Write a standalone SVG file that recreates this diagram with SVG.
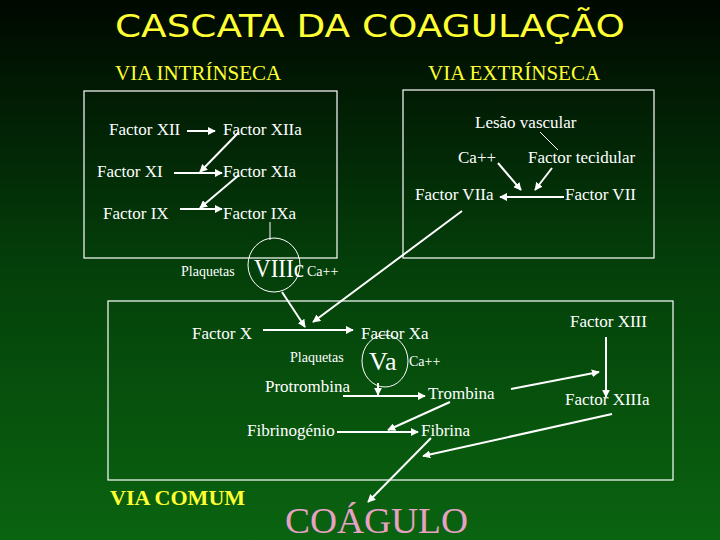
<svg xmlns="http://www.w3.org/2000/svg" width="720" height="540" viewBox="0 0 720 540">
<defs>
<linearGradient id="bg" x1="0" y1="0" x2="0" y2="1">
<stop offset="0" stop-color="#000800"/>
<stop offset="0.5" stop-color="#04400a"/>
<stop offset="1" stop-color="#0a6410"/>
</linearGradient>
<marker id="ah" viewBox="0 0 10 10" refX="9" refY="5" markerWidth="4" markerHeight="4" orient="auto"><path d="M0,0 L10,5 L0,10 z" fill="#fff"/></marker>
<style>
.t{font-family:"Liberation Serif",serif;font-size:17px;fill:#fff}
.s{font-family:"Liberation Serif",serif;font-size:14px;fill:#fff}
.g{font-family:"Liberation Serif",serif;font-size:26px;fill:#fff}
.h{font-family:"Liberation Serif",serif;font-size:21px;fill:#ffff33}
.a{stroke:#fff;stroke-width:2;fill:none;marker-end:url(#ah)}
.l{stroke:#fff;stroke-width:1;fill:none}
.b{stroke:#fff;stroke-width:1.2;fill:none}
</style>
</defs>
<rect width="720" height="540" fill="url(#bg)"/>
<text x="115" y="37" textLength="510" lengthAdjust="spacingAndGlyphs" font-family="DejaVu Sans, sans-serif" font-size="32" fill="#ffff33">CASCATA DA COAGULAÇÃO</text>
<text class="h" x="115" y="80" font-family="Liberation Serif, serif">VIA INTRÍNSECA</text>
<text class="h" x="428" y="80" font-family="Liberation Serif, serif">VIA EXTRÍNSECA</text>
<rect class="b" x="84" y="91" width="253" height="167"/>
<rect class="b" x="403" y="90" width="251" height="168"/>
<rect class="b" x="108" y="301" width="565" height="179"/>
<g id="connectors">
<line class="a" x1="187" y1="131" x2="215" y2="131"/>
<line class="a" x1="174" y1="173" x2="222" y2="173"/>
<line class="a" x1="180" y1="209" x2="222" y2="209"/>
<line class="a" x1="239" y1="132" x2="200" y2="172"/>
<line class="a" x1="239" y1="175" x2="200" y2="208"/>
<line class="l" x1="270" y1="222" x2="270" y2="240"/>
<line class="a" x1="282" y1="292" x2="305" y2="327"/>
<line class="a" x1="462" y1="211" x2="313" y2="322"/>
<line class="l" x1="540" y1="132" x2="558" y2="150"/>
<line class="a" x1="498" y1="163" x2="521" y2="190"/>
<line class="a" x1="552" y1="168" x2="535" y2="190"/>
<line class="a" x1="564" y1="197" x2="500" y2="197"/>
<line class="a" x1="263" y1="330" x2="353" y2="330"/>
<line class="a" x1="378" y1="383" x2="378" y2="395"/>
<line class="a" x1="343" y1="396" x2="425" y2="396"/>
<line class="a" x1="450" y1="402" x2="388" y2="430"/>
<line class="a" x1="337" y1="432" x2="418" y2="432"/>
<line class="a" x1="431" y1="438" x2="368" y2="502"/>
<line class="a" x1="511" y1="389" x2="599" y2="372"/>
<line class="a" x1="606" y1="337" x2="606" y2="397"/>
<line class="a" x1="612" y1="414" x2="423" y2="456"/>
</g>
<g font-family="Liberation Serif, serif">
<g id="n-xii"><text class="t" x="109" y="135">Factor XII</text></g>
<g id="n-xiia"><text class="t" x="223" y="135">Factor XIIa</text></g>
<g id="n-xi"><text class="t" x="97" y="177">Factor XI</text></g>
<g id="n-xia"><text class="t" x="223" y="177">Factor XIa</text></g>
<g id="n-ix"><text class="t" x="103" y="219">Factor IX</text></g>
<g id="n-ixa"><text class="t" x="223" y="219">Factor IXa</text></g>
<g id="n-viiic"><ellipse class="l" cx="274" cy="265" rx="26" ry="27"/><text class="g" x="254" y="277" textLength="50" lengthAdjust="spacingAndGlyphs">VIIIc</text><text class="s" x="181" y="276">Plaquetas</text><text class="s" x="307" y="276">Ca++</text></g>
<g id="n-lesao"><text class="t" x="475" y="128">Lesão vascular</text></g>
<g id="n-ca"><text class="t" x="458" y="163">Ca++</text></g>
<g id="n-tec"><text class="t" x="528" y="163">Factor tecidular</text></g>
<g id="n-viia"><text class="t" x="415" y="200">Factor VIIa</text></g>
<g id="n-vii"><text class="t" x="565" y="200">Factor VII</text></g>
<g id="n-x"><text class="t" x="192" y="339">Factor X</text></g>
<g id="n-xa"><text class="t" x="361" y="339">Factor Xa</text></g>
<g id="n-va"><ellipse class="l" cx="385" cy="361" rx="23" ry="26"/><text class="g" x="369" y="370">Va</text><text class="s" x="290" y="362">Plaquetas</text><text class="s" x="409" y="366">Ca++</text></g>
<g id="n-pro"><text class="t" x="265" y="392">Protrombina</text></g>
<g id="n-tro"><text class="t" x="428" y="399">Trombina</text></g>
<g id="n-fbg"><text class="t" x="247" y="436">Fibrinogénio</text></g>
<g id="n-fib"><text class="t" x="421" y="436">Fibrina</text></g>
<g id="n-xiii"><text class="t" x="570" y="327">Factor XIII</text></g>
<g id="n-xiiia"><text class="t" x="565" y="405">Factor XIIIa</text></g>
<text x="110" y="505" font-family="Liberation Serif, serif" font-size="22" font-weight="bold" fill="#ffff33">VIA COMUM</text>
<g id="n-coag"><text x="285" y="533" textLength="183" lengthAdjust="spacingAndGlyphs" font-family="Liberation Serif, serif" font-size="36" fill="#e8a0c4">COÁGULO</text></g>
</g>
</svg>
